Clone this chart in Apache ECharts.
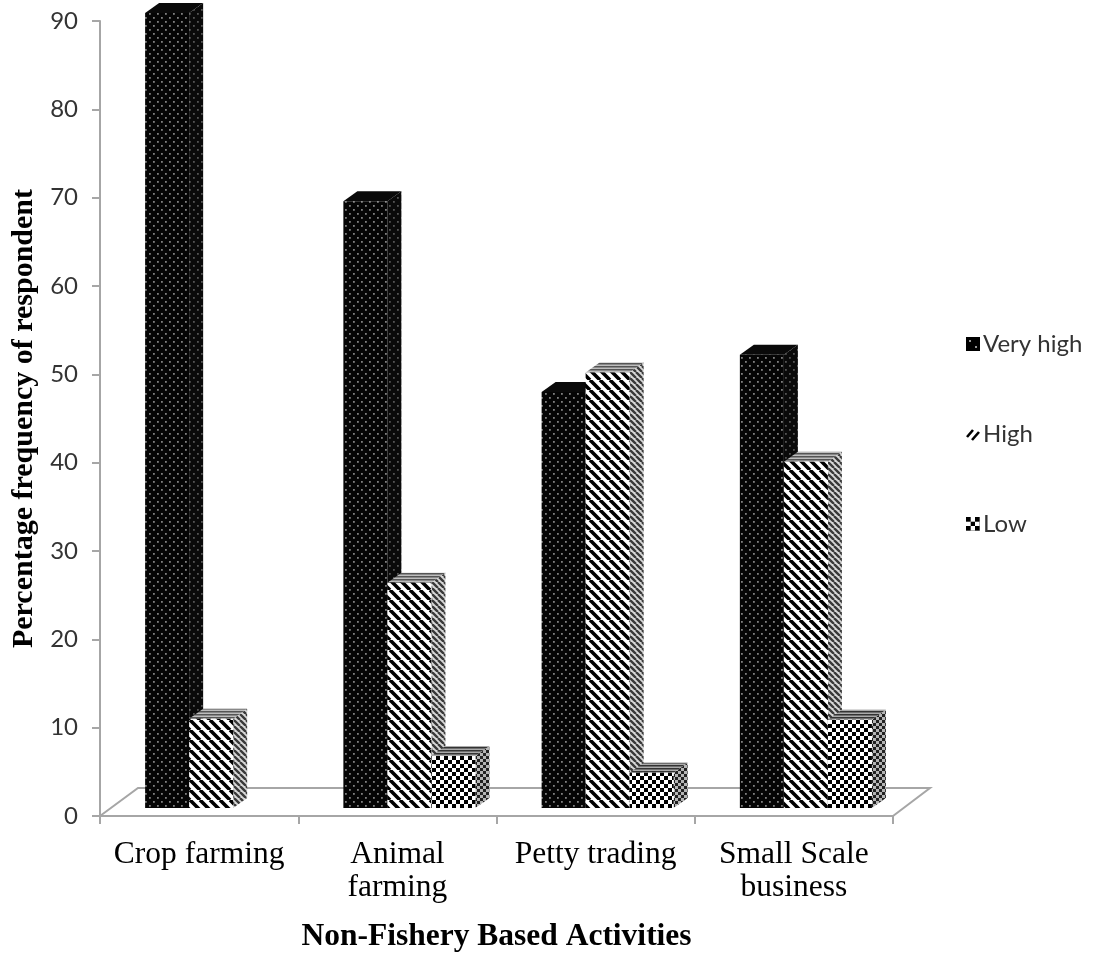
<!DOCTYPE html>
<html>
<head>
<meta charset="utf-8">
<script src="https://cdn.jsdelivr.net/npm/echarts@6/dist/echarts.min.js"></script>
<style>
html,body{margin:0;padding:0;background:#fff;}
#chart{width:1094px;height:953px;}
</style>
</head>
<body>
<div id="chart"></div>
<script>
// ---- data ----
const categories = ['Crop farming', 'Animal\nfarming', 'Petty trading', 'Small Scale\nbusiness'];
const seriesNames = ['Very high', 'High', 'Low'];
const veryHigh = [90, 68.7, 47.1, 51.3];
const high = [10.1, 25.5, 49.3, 39.2];
const low = [0, 5.9, 4, 10];
const yMin = 0, yMax = 90, yInterval = 10;

// ---- patterns ----
function makePattern(w, h, draw) {
  const c = document.createElement('canvas');
  c.width = w; c.height = h;
  const ctx = c.getContext('2d');
  draw(ctx, w, h);
  return { image: c, repeat: 'repeat' };
}
function dots(bg, fg) {
  return makePattern(8, 8, (ctx) => {
    ctx.fillStyle = bg; ctx.fillRect(0, 0, 8, 8);
    ctx.fillStyle = fg;
    ctx.fillRect(1, 1, 1.8, 1.8);
    ctx.fillRect(5, 5, 1.8, 1.8);
  });
}
function stripes(size, bg, fg, lw, dir) {
  return makePattern(size, size, (ctx) => {
    ctx.fillStyle = bg; ctx.fillRect(0, 0, size, size);
    ctx.strokeStyle = fg; ctx.lineWidth = lw;
    ctx.beginPath();
    for (let k = -2; k <= 2; k++) {
      if (dir === 'back') { ctx.moveTo(k * size, 0); ctx.lineTo(k * size + size, size); }
      else { ctx.moveTo(k * size, size); ctx.lineTo(k * size + size, 0); }
    }
    ctx.stroke();
  });
}
function hstripes(size, bg, fg) {
  return makePattern(size, size, (ctx) => {
    ctx.fillStyle = bg; ctx.fillRect(0, 0, size, size);
    ctx.fillStyle = fg; ctx.fillRect(0, 0, size, size / 2);
  });
}
function checker(size, a, b) {
  return makePattern(size, size, (ctx) => {
    const h = size / 2;
    ctx.fillStyle = b; ctx.fillRect(0, 0, size, size);
    ctx.fillStyle = a; ctx.fillRect(0, 0, h, h); ctx.fillRect(h, h, h, h);
  });
}

const faces = [
  { front: dots('#050505', '#808080'), side: dots('#0a0a0a', '#555'), top: '#0a0a0a' },
  { front: stripes(10, '#ffffff', '#000000', 3.6, 'back'), side: stripes(6, '#d8d8d8', '#3a3a3a', 2.4, 'back'), top: hstripes(3, '#bdbdbd', '#555') },
  { front: checker(8, '#000000', '#ffffff'), side: checker(6, '#222', '#b5b5b5'), top: hstripes(3, '#aaaaaa', '#333') }
];
const legendIcons = [
  makePattern(14, 14, (ctx) => { ctx.fillStyle = '#000'; ctx.fillRect(0, 0, 14, 14); ctx.fillStyle = '#999'; ctx.fillRect(3, 3, 2, 2); ctx.fillRect(9, 9, 2, 2); }),
  makePattern(14, 14, (ctx) => { ctx.fillStyle = '#fff'; ctx.fillRect(0, 0, 14, 14); ctx.strokeStyle = '#000'; ctx.lineWidth = 2.6; ctx.beginPath(); ctx.moveTo(1, 10); ctx.lineTo(7, 3); ctx.moveTo(6, 13); ctx.lineTo(13, 5); ctx.stroke(); }),
  checker(9.4, '#000', '#fff')
];

const DX = 14, DY = -10, LIFT = 8;

function barRender(s) {
  return function (params, api) {
    const ci = api.value(0), v = api.value(1);
    if (!v) return null;
    const topP = api.coord([ci, v]);
    const botP = api.coord([ci, 0]);
    const bw = api.size([1, 0])[0];
    const W = bw * 0.222;
    const L = topP[0] - bw * 0.2724 + s * W;
    const R = L + W;
    const yT = topP[1] - LIFT, yB = botP[1] - LIFT;
    const f = faces[s];
    return {
      type: 'group',
      children: [
        { type: 'polygon', z2: s * 10 + 1, shape: { points: [[R, yT], [R + DX, yT + DY], [R + DX, yB + DY], [R, yB]] }, style: { fill: f.side } },
        { type: 'polygon', z2: s * 10 + 1, shape: { points: [[L, yT], [L + DX, yT + DY], [R + DX, yT + DY], [R, yT]] }, style: { fill: f.top } },
        { type: 'rect', z2: s * 10 + 2, shape: { x: L, y: yT, width: W, height: yB - yT }, style: { fill: f.front } }
      ]
    };
  };
}

function floorRender(params, api) {
  const cs = params.coordSys;
  const x0 = cs.x, x1 = cs.x + cs.width, y0 = cs.y + cs.height;
  const fdx = 38, fdy = -28;
  return {
    type: 'polyline',
    z2: 0,
    shape: { points: [[x0, y0], [x0 + fdx, y0 + fdy], [x1 + fdx - 1, y0 + fdy], [x1, y0]] },
    style: { stroke: '#a6a6a6', lineWidth: 2, fill: null }
  };
}

const valueSets = [veryHigh, high, low];
const series = [{
  type: 'custom', name: 'floor', renderItem: floorRender, data: [[0, 0]], silent: true, z: 1
}].concat(valueSets.map((vals, s) => ({
  type: 'custom',
  name: seriesNames[s],
  renderItem: barRender(s),
  encode: { x: 0, y: 1 },
  data: vals.map((v, i) => [i, v]),
  z: 2
})));

const chart = echarts.init(document.getElementById('chart'), null, { renderer: 'canvas' });
chart.setOption({
  animation: false,
  backgroundColor: '#ffffff',
  grid: { left: 100, right: 201, top: 21, bottom: 137, containLabel: false, outerBoundsMode: 'none' },
  legend: {
    orient: 'vertical',
    left: 961,
    top: 327,
    itemWidth: 14,
    itemHeight: 14,
    itemGap: 66,
    selectedMode: false,
    textStyle: { fontFamily: 'Lato', fontSize: 24, color: '#333333', padding: [0, 0, 0, -2] },
    data: seriesNames.map((n, i) => ({ name: n, icon: 'rect', itemStyle: { color: legendIcons[i], borderWidth: 0 } }))
  },
  xAxis: {
    type: 'category',
    data: categories,
    name: 'Non-Fishery Based Activities',
    nameLocation: 'middle',
    nameGap: 105,
    nameTextStyle: { fontFamily: 'Liberation Serif', fontWeight: 'bold', fontSize: 31.5, color: '#000' },
    axisLine: { lineStyle: { color: '#a6a6a6', width: 2 } },
    axisTick: { show: true, length: 8, lineStyle: { color: '#a6a6a6', width: 2 } },
    axisLabel: { fontFamily: 'Liberation Serif', fontSize: 31.5, color: '#000', lineHeight: 33, margin: 22, interval: 0 },
    splitLine: { show: false }
  },
  yAxis: {
    type: 'value',
    min: yMin, max: yMax, interval: yInterval,
    name: 'Percentage frequency of respondent',
    nameLocation: 'middle',
    nameRotate: 90,
    nameGap: 58,
    nameTextStyle: { fontFamily: 'Liberation Serif', fontWeight: 'bold', fontSize: 30, color: '#000' },
    axisLine: { show: true, lineStyle: { color: '#a6a6a6', width: 2 } },
    axisTick: { show: true, length: 8, lineStyle: { color: '#a6a6a6', width: 2 } },
    axisLabel: { fontFamily: 'Lato', fontSize: 24, color: '#333333', margin: 22 },
    splitLine: { show: false }
  },
  series: series
});
</script>
</body>
</html>
